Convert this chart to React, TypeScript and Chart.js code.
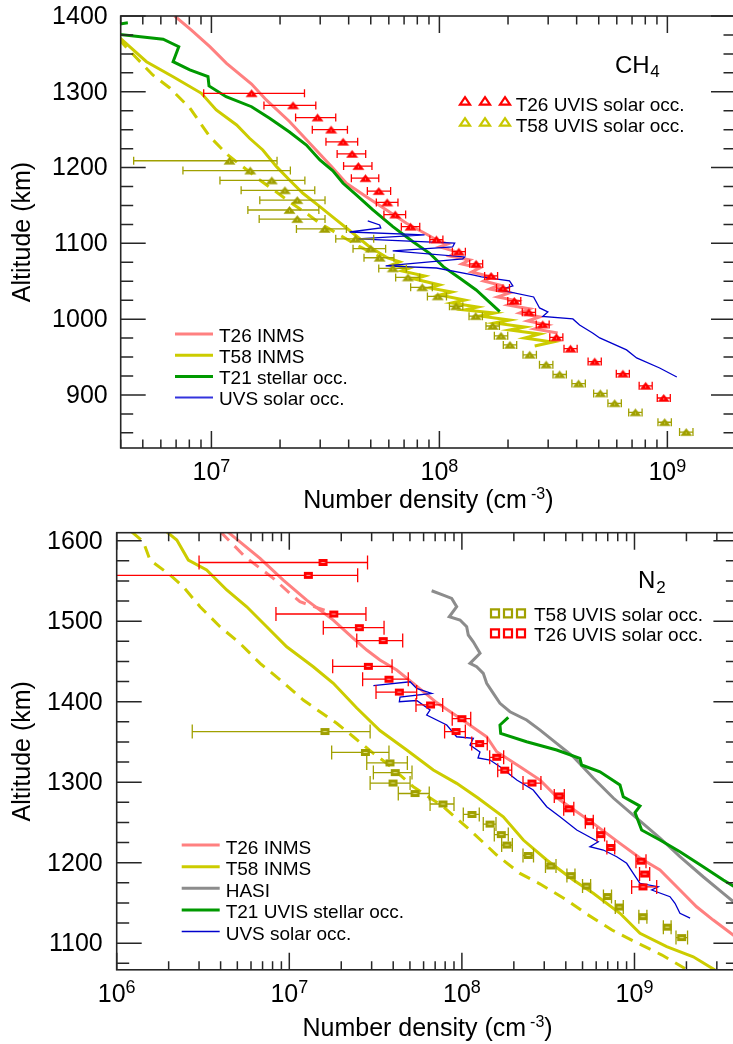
import React, { useEffect, useRef } from "react";
import { Chart, registerables } from "chart.js";
Chart.register(...registerables);

const FONT = '"Liberation Sans", Arial, Helvetica, sans-serif';
const AXIS = "#262626";
const RED = "#ff0000";
const SALMON = "#ff8080";
const YELLOW = "#cccc00";
const OLIVE = "#a0a000";
const GREEN = "#009900";
const BLUE = "#0000cc";
const GREY = "#8c8c8c";

// ---------------- CH4 panel (top) ----------------
const CH4_X_RANGE = [4e6, 2e9];
const CH4_Y_RANGE = [830, 1400];

const CH4_T26_UVIS_ALT = [1298, 1282, 1266, 1250, 1234, 1218, 1202, 1186, 1169, 1154, 1138, 1122, 1105, 1089, 1073, 1057, 1041, 1024, 1009, 993, 976, 961, 944, 928, 912, 896];
const CH4_T26_UVIS_N = [1.5e7, 2.28e7, 2.92e7, 3.35e7, 3.78e7, 4.14e7, 4.41e7, 4.74e7, 5.42e7, 5.9e7, 6.4e7, 7.47e7, 9.7e7, 1.217e8, 1.449e8, 1.686e8, 1.9e8, 2.13e8, 2.47e8, 2.84e8, 3.26e8, 3.76e8, 4.8e8, 6.38e8, 8.03e8, 9.64e8];
const CH4_T26_UVIS_LO = [9.25e6, 1.7e7, 2.34e7, 2.77e7, 3.18e7, 3.56e7, 3.8e7, 4.11e7, 4.83e7, 5.29e7, 5.71e7, 6.81e7, 9.08e7, 1.14e8, 1.357e8, 1.579e8, 1.78e8, 1.995e8, 2.31e8, 2.66e8, 3.05e8, 3.52e8, 4.49e8, 5.97e8, 7.52e8, 9.03e8];
const CH4_T26_UVIS_HI = [2.56e7, 2.87e7, 3.51e7, 3.95e7, 4.38e7, 4.75e7, 5.06e7, 5.42e7, 6.11e7, 6.58e7, 7.11e7, 8.2e7, 1.036e8, 1.3e8, 1.548e8, 1.8e8, 2.03e8, 2.275e8, 2.64e8, 3.03e8, 3.48e8, 4.02e8, 5.13e8, 6.81e8, 8.58e8, 1.03e9];

const CH4_T58_UVIS_ALT = [1209, 1196, 1183, 1170, 1157, 1144, 1132, 1119, 1106, 1093, 1081, 1067, 1055, 1042, 1030, 1017, 1004, 991, 978, 966, 953, 940, 927, 915, 902, 889, 877, 864, 851];
const CH4_T58_UVIS_N = [1.2e7, 1.48e7, 1.84e7, 2.1e7, 2.38e7, 2.2e7, 2.38e7, 3.14e7, 4.29e7, 5.0e7, 5.47e7, 6.25e7, 7.28e7, 8.41e7, 9.84e7, 1.184e8, 1.443e8, 1.713e8, 1.864e8, 2.04e8, 2.49e8, 2.94e8, 3.37e8, 4.08e8, 5.08e8, 5.87e8, 7.24e8, 9.73e8, 1.21e9];
const CH4_T58_UVIS_LO = [4.56e6, 7.5e6, 1.09e7, 1.35e7, 1.63e7, 1.445e7, 1.62e7, 2.36e7, 3.51e7, 4.18e7, 4.67e7, 5.42e7, 6.43e7, 7.48e7, 8.86e7, 1.107e8, 1.349e8, 1.601e8, 1.742e8, 1.907e8, 2.327e8, 2.748e8, 3.15e8, 3.813e8, 4.748e8, 5.486e8, 6.766e8, 9.093e8, 1.131e9];
const CH4_T58_UVIS_HI = [1.94e7, 2.22e7, 2.57e7, 2.84e7, 3.15e7, 2.96e7, 3.15e7, 3.91e7, 5.15e7, 5.81e7, 6.32e7, 7.16e7, 8.2e7, 9.31e7, 1.074e8, 1.267e8, 1.544e8, 1.833e8, 1.994e8, 2.183e8, 2.664e8, 3.146e8, 3.606e8, 4.366e8, 5.436e8, 6.281e8, 7.747e8, 1.041e9, 1.295e9];

const CH4_T26_INMS_N = [6.9e6, 8.17e6, 9.84e6, 1.165e7, 1.5e7, 1.74e7, 2.2e7, 2.79e7, 3.37e7, 3.91e7, 4.78e7, 5.86e7, 7.17e7, 8.91e7, 9.73e7, 1.087e8, 1.003e8, 1.191e8, 1.11e8, 1.358e8, 1.253e8, 1.502e8, 1.385e8, 1.696e8, 1.564e8, 1.839e8, 1.662e8, 2.034e8, 1.802e8, 2.205e8, 1.994e8, 2.489e8, 2.25e8, 2.754e8, 2.44e8, 2.985e8, 2.618e8, 3.303e8];
const CH4_T26_INMS_ALT = [1400, 1381.5, 1359.5, 1337.6, 1310.3, 1289.2, 1260.8, 1227.6, 1201.2, 1179.3, 1161.6, 1144.1, 1126.5, 1111.1, 1104.5, 1099.2, 1095.3, 1088.7, 1083.4, 1078.1, 1072.8, 1067.5, 1062.3, 1055.7, 1050.4, 1045.1, 1039.8, 1034.6, 1029.3, 1024.0, 1018.7, 1013.5, 1008.2, 1002.9, 997.6, 992.3, 987.1, 981.8];

const CH4_T58_INMS_N = [3.9e6, 5.19e6, 6.79e6, 9.04e6, 1.05e7, 1.29e7, 1.47e7, 1.68e7, 1.93e7, 2.2e7, 2.52e7, 2.99e7, 3.53e7, 4.18e7, 4.945e7, 5.933e7, 6.698e7, 6.178e7, 7.41e7, 6.834e7, 8.62e7, 7.795e7, 1.003e8, 9.07e7, 1.132e8, 1.003e8, 1.291e8, 1.132e8, 1.472e8, 1.291e8, 1.748e8, 1.502e8, 2.034e8, 1.748e8, 2.366e8, 2.034e8, 2.754e8, 2.366e8, 3.14e8, 2.618e8];
const CH4_T58_INMS_ALT = [1373, 1339.7, 1319.9, 1298.0, 1276.0, 1256.2, 1238.7, 1223.2, 1201.2, 1183.6, 1166.1, 1148.4, 1130.9, 1113.3, 1095.3, 1080.8, 1075.5, 1071.5, 1067.5, 1063.6, 1057.0, 1053.0, 1045.1, 1041.2, 1035.9, 1031.9, 1025.3, 1021.4, 1016.1, 1012.1, 1008.2, 1004.2, 998.9, 995.0, 989.7, 985.8, 980.5, 975.2, 969.9, 964.6];

const CH4_T58_INMS_DASH_N = [3.9e6, 5.53e6, 6.57e6, 8.04e6, 9.84e6, 1.18e7, 1.63e7, 1.96e7, 2.2e7, 2.61e7, 2.99e7, 3.65e7, 4.47e7, 5.47e7];
const CH4_T58_INMS_DASH_ALT = [1370, 1322.2, 1305.0, 1278.6, 1240.8, 1216.6, 1183.6, 1166.1, 1155.0, 1139.7, 1126.5, 1111.1, 1095.6, 1082.5];

const CH4_T21_STELLAR_N = [3.9e6, 6.14e6, 7.19e6, 6.79e6, 8.04e6, 9.66e6, 9.76e6, 1.16e7, 1.5e7, 1.8e7, 2.2e7, 2.61e7, 2.99e7, 3.41e7, 3.78e7, 4.32e7, 5.11e7, 6.25e7, 7.66e7, 9.06e7, 1.04e8, 1.23e8, 1.45e8, 1.84e8];
const CH4_T21_STELLAR_ALT = [1376, 1369.3, 1359.5, 1339.7, 1328.8, 1319.9, 1307.7, 1293.5, 1280.3, 1265.0, 1247.0, 1229.8, 1210.0, 1195.8, 1179.3, 1163.9, 1144.1, 1122.0, 1102.2, 1086.9, 1069.3, 1053.9, 1038.5, 1009.9];
const CH4_T21_STELLAR_TOP_N = [3.9e6, 4.3e6];
const CH4_T21_STELLAR_TOP_ALT = [1389, 1391];

const CH4_UVS_N = [4.85e7, 5.47e7, 5.53e7, 4.04e7, 8.61e7, 4.38e7, 1.167e8, 1.143e8, 6.24e7, 1.291e8, 1.265e8, 5.81e7, 9.72e7, 1.4e8, 1.53e8, 2.03e8, 2.1e8, 1.84e8, 2.59e8, 2.75e8, 2.99e8, 2.84e8, 3.85e8, 4.12e8, 4.7e8, 5.05e8, 6.62e8, 7.33e8, 9.25e8, 1.1e9];
const CH4_UVS_ALT = [1129.6, 1124.3, 1120.3, 1115.0, 1111.1, 1105.8, 1100.5, 1095.3, 1090.0, 1082.1, 1079.4, 1070.2, 1067.5, 1058.3, 1055.7, 1050.4, 1043.8, 1038.5, 1029.3, 1014.8, 1009.5, 1003.6, 1000.3, 992.3, 981.8, 975.2, 959.4, 948.8, 935.6, 923.7];

// ---------------- N2 panel (bottom) ----------------
const N2_X_RANGE = [1e6, 4e9];
const N2_Y_RANGE = [1067, 1610];

const N2_T26_UVIS_ALT = [1573, 1557, 1509, 1492, 1476, 1444, 1428, 1412, 1396, 1379, 1363, 1348, 1331, 1315, 1299, 1283, 1267, 1251, 1235, 1219, 1202, 1186, 1170];
const N2_T26_UVIS_N = [1.568e7, 1.289e7, 1.81e7, 2.545e7, 3.5e7, 2.87e7, 3.78e7, 4.34e7, 6.58e7, 1.0e8, 9.25e7, 1.267e8, 1.591e8, 1.77e8, 2.547e8, 3.667e8, 4.165e8, 5.47e8, 6.38e8, 7.29e8, 1.091e9, 1.145e9, 1.12e9];
const N2_T26_UVIS_LO = [3.0e6, 8e5, 8.37e6, 1.574e7, 2.46e7, 1.784e7, 2.66e7, 3.18e7, 5.42e7, 8.79e7, 7.94e7, 1.14e8, 1.449e8, 1.613e8, 2.26e8, 3.43e8, 3.89e8, 5.19e8, 6.06e8, 6.92e8, 1.02e9, 1.07e9, 9.63e8];
const N2_T26_UVIS_HI = [2.84e7, 2.49e7, 2.78e7, 3.54e7, 4.54e7, 3.94e7, 4.89e7, 5.47e7, 7.74e7, 1.125e8, 1.047e8, 1.403e8, 1.746e8, 1.944e8, 2.87e8, 3.92e8, 4.45e8, 5.77e8, 6.71e8, 7.68e8, 1.166e9, 1.225e9, 1.345e9];

const N2_T58_UVIS_ALT = [1363, 1337, 1324, 1312, 1299, 1286, 1273, 1260, 1248, 1235, 1222, 1209, 1196, 1184, 1171, 1158, 1145, 1133, 1120, 1107];
const N2_T58_UVIS_N = [1.61e7, 2.76e7, 3.83e7, 4.11e7, 3.99e7, 5.35e7, 7.77e7, 1.144e8, 1.455e8, 1.692e8, 1.825e8, 2.425e8, 3.27e8, 4.29e8, 5.28e8, 6.98e8, 8.17e8, 1.12e9, 1.549e9, 1.877e9];
const N2_T58_UVIS_LO = [2.74e6, 1.76e7, 2.81e7, 3.07e7, 2.94e7, 4.28e7, 6.54e7, 1.019e8, 1.33e8, 1.541e8, 1.7e8, 2.26e8, 3.05e8, 4.06e8, 5.0e8, 6.61e8, 7.74e8, 1.06e9, 1.47e9, 1.74e9];
const N2_T58_UVIS_HI = [2.94e7, 3.78e7, 4.83e7, 5.14e7, 5.01e7, 6.47e7, 9.0e7, 1.261e8, 1.576e8, 1.857e8, 1.96e8, 2.6e8, 3.51e8, 4.52e8, 5.57e8, 7.36e8, 8.61e8, 1.18e9, 1.63e9, 2.03e9];

const N2_T26_INMS_N = [4.4e6, 6.77e6, 9.23e6, 1.261e7, 1.798e7, 2.35e7, 2.81e7, 3.35e7, 4.19e7, 5.23e7, 7.14e7, 9.75e7, 1.392e8, 1.591e8, 2.17e8, 2.84e8, 3.7e8, 5.77e8, 8.24e8, 1.076e9, 1.405e9, 1.834e9, 2.29e9, 2.86e9, 4.08e9];
const N2_T26_INMS_ALT = [1611, 1578.1, 1551.2, 1526.3, 1501.5, 1478.8, 1464.2, 1451.8, 1439.4, 1422.9, 1399.0, 1379.4, 1356.5, 1337.9, 1319.3, 1302.7, 1277.9, 1248.9, 1224.1, 1205.8, 1190.9, 1166.1, 1145.3, 1128.8, 1104];

const N2_T26_INMS_DASH_N = [4.0e6, 5.54e6, 8.08e6, 1.009e7, 1.153e7, 1.72e7];
const N2_T26_INMS_DASH_ALT = [1611, 1580.1, 1553.3, 1534.7, 1524.2, 1511.4];

const N2_T58_INMS_N = [1.95e6, 2.23e6, 2.6e6, 3.32e6, 4.34e6, 5.67e6, 7.4e6, 9.66e6, 1.377e7, 1.8e7, 2.46e7, 3.35e7, 4.79e7, 6.83e7, 9.33e7, 1.24e8, 1.738e8, 2.27e8, 3.1e8, 4.42e8, 5.77e8, 8.24e8, 1.076e9, 1.537e9, 2.19e9, 2.93e9];
const N2_T58_INMS_ALT = [1611, 1600.9, 1576.0, 1563.6, 1538.8, 1518.0, 1493.2, 1468.3, 1443.5, 1422.9, 1392.2, 1364.2, 1340.0, 1315.2, 1298.6, 1280.4, 1257.1, 1228.2, 1203.4, 1178.5, 1162.0, 1137.2, 1112.3, 1095.7, 1083.2, 1066.7];

const N2_T58_INMS_DASH_N = [1.222e6, 1.426e6, 1.56e6, 2.04e6, 2.43e6, 3.04e6, 3.97e6, 5.18e6, 6.77e6, 9.03e6, 1.205e7, 1.506e7, 1.882e7, 2.35e7, 3.07e7, 3.67e7, 5.23e7, 7.8e7, 1.114e8, 1.591e8, 2.17e8, 2.84e8, 4.05e8, 5.28e8, 7.41e8, 1.048e9, 1.443e9, 1.962e9];
const N2_T58_INMS_DASH_ALT = [1611, 1598.8, 1576.0, 1557.4, 1542.9, 1518.0, 1493.2, 1472.5, 1447.7, 1425.7, 1402.1, 1387.6, 1373.2, 1356.5, 1335.9, 1323.5, 1294.4, 1269.6, 1240.6, 1209.6, 1186.8, 1173.5, 1153.7, 1136.3, 1116.4, 1099.9, 1085.3, 1068.6];

const N2_HASI_N = [6.68e7, 7.8e7, 8.73e7, 9.33e7, 8.45e7, 9.75e7, 1.066e8, 1.089e8, 1.164e8, 1.274e8, 1.114e8, 1.218e8, 1.33e8, 1.392e8, 1.521e8, 1.662e8, 1.9e8, 2.37e8, 2.84e8, 3.54e8, 4.42e8, 5.77e8, 7.54e8, 1.03e9, 1.405e9, 1.834e9, 2.5e9, 3.27e9, 4.08e9];
const N2_HASI_ALT = [1537.9, 1532.5, 1528.4, 1518.0, 1505.6, 1501.5, 1493.2, 1482.9, 1474.5, 1460.1, 1447.7, 1443.5, 1435.3, 1422.9, 1410.4, 1398.0, 1387.6, 1377.3, 1364.8, 1348.3, 1331.7, 1305.2, 1280.4, 1255.5, 1230.7, 1207.5, 1182.6, 1162.0, 1145.0];

const N2_T21_STELLAR_N = [1.857e8, 1.662e8, 1.678e8, 2.37e8, 3.54e8, 4.83e8, 4.94e8, 6.31e8, 8.24e8, 8.61e8, 1.076e9, 1.007e9, 1.1e9, 1.405e9, 1.834e9, 2.5e9, 3.27e9, 4.08e9];
const N2_T21_STELLAR_ALT = [1380.6, 1371.1, 1360.7, 1350.3, 1340.0, 1329.7, 1321.4, 1313.0, 1296.5, 1282.0, 1270.4, 1262.4, 1240.6, 1228.2, 1213.7, 1195.0, 1178.5, 1166.1];

const N2_UVS_N = [3.07e7, 5.01e7, 5.47e7, 6.68e7, 4.38e7, 4.34e7, 5.47e7, 6.54e7, 6.25e7, 8.17e7, 9.33e7, 1.165e8, 1.114e8, 1.273e8, 1.24e8, 1.455e8, 1.662e8, 2.08e8, 2.59e8, 3.1e8, 3.7e8, 4.63e8, 6.17e8, 5.52e8, 6.6e8, 7.89e8, 9.01e8, 9.84e8, 1.076e9, 1.373e9, 1.258e9, 1.606e9, 1.717e9, 1.834e9, 2.1e9];
const N2_UVS_ALT = [1419.9, 1424.8, 1416.6, 1410.4, 1405.8, 1400.0, 1401.5, 1389.7, 1383.5, 1371.1, 1356.5, 1354.5, 1346.2, 1337.5, 1330.1, 1327.6, 1319.3, 1302.7, 1290.3, 1269.6, 1257.1, 1240.6, 1226.1, 1219.9, 1215.8, 1207.5, 1199.3, 1186.8, 1174.4, 1170.2, 1166.1, 1157.8, 1149.6, 1137.2, 1131.1];

// ---------------- helpers ----------------
const zip = (xs: number[], ys: number[]) => xs.map((x, i) => ({ x, y: ys[i] }));

function markerCanvas(kind: "tri" | "sq", fill: string, inner: string) {
  const c = document.createElement("canvas");
  if (kind === "tri") {
    c.width = 13;
    c.height = 10;
    const g = c.getContext("2d") as CanvasRenderingContext2D;
    g.fillStyle = fill;
    g.beginPath();
    g.moveTo(6.5, 1);
    g.lineTo(12.5, 8.8);
    g.lineTo(0.5, 8.8);
    g.closePath();
    g.fill();
    g.fillStyle = inner;
    g.fillRect(6, 5.5, 1, 1);
  } else {
    c.width = 11;
    c.height = 9;
    const g = c.getContext("2d") as CanvasRenderingContext2D;
    g.fillStyle = fill;
    g.fillRect(1, 1, 9, 7);
    g.fillStyle = inner;
    g.fillRect(3.5, 4, 4, 1);
  }
  return c;
}

function lineDs(n: number[], alt: number[], color: string, width: number, dash: number[] = []) {
  return {
    data: zip(n, alt),
    showLine: true,
    pointRadius: 0,
    borderColor: color,
    borderWidth: width,
    borderDash: dash,
    tension: 0,
    fill: false,
    clip: 0,
  };
}

function markDs(n: number[], alt: number[], lo: number[], hi: number[], img: HTMLCanvasElement, errColor: string, capH: number) {
  return {
    data: zip(n, alt),
    showLine: false,
    pointStyle: img,
    pointRadius: 5,
    errLo: lo,
    errHi: hi,
    errColor,
    capH,
    clip: 0,
  };
}

type Part = { t: string; size: number; dy: number; gap?: number };
function drawParts(ctx: CanvasRenderingContext2D, parts: Part[], x: number, y: number, align: "left" | "center") {
  let total = 0;
  const widths = parts.map((p) => {
    ctx.font = `${p.size}px ${FONT}`;
    const w = ctx.measureText(p.t).width;
    total += w + (p.gap || 0);
    return w;
  });
  let cx = align === "center" ? x - total / 2 : x;
  ctx.textAlign = "left";
  ctx.textBaseline = "alphabetic";
  parts.forEach((p, i) => {
    cx += p.gap || 0;
    ctx.font = `${p.size}px ${FONT}`;
    ctx.fillText(p.t, cx, y + p.dy);
    cx += widths[i];
  });
}

interface PanelCfg {
  yMajor: number;
  yMinor: number;
  yLabelGap: number;
  xLabelDy: number;
  xTitleY: number;
  yTitleX: number;
  lineLegend: { label: string; color: string; width: number }[];
  llX: number;
  llY: number;
  llStep: number;
  llTextDy: number;
  markKind: "tri" | "sq";
  markLegend: { label: string; color: string }[];
  mlXs: number[];
  mlY: number;
  mlStep: number;
  mlTextX: number;
  mlTextDy: number;
  species: Part[];
  spX: number;
  spY: number;
}

const errorBarPlugin = {
  id: "errbars",
  beforeDatasetDraw(chart: any, args: any) {
    const ds: any = chart.data.datasets[args.index];
    if (!ds.errLo) return;
    const { ctx, chartArea: a } = chart;
    const xs = chart.scales.x;
    const ys = chart.scales.y;
    ctx.save();
    ctx.beginPath();
    ctx.rect(a.left, a.top, a.right - a.left, a.bottom - a.top);
    ctx.clip();
    ctx.strokeStyle = ds.errColor;
    ctx.lineWidth = 1.3;
    ctx.beginPath();
    ds.data.forEach((p: any, i: number) => {
      const y = ys.getPixelForValue(p.y);
      const x0 = xs.getPixelForValue(ds.errLo[i]);
      const x1 = xs.getPixelForValue(ds.errHi[i]);
      const h = ds.capH / 2;
      ctx.moveTo(x0, y);
      ctx.lineTo(x1, y);
      ctx.moveTo(x0, y - h);
      ctx.lineTo(x0, y + h);
      ctx.moveTo(x1, y - h);
      ctx.lineTo(x1, y + h);
    });
    ctx.stroke();
    ctx.restore();
  },
};

function panelPlugin(cfg: PanelCfg) {
  return {
    id: "panel",
    afterDraw(chart: any) {
      const { ctx, chartArea: a } = chart;
      const xs = chart.scales.x;
      const ys = chart.scales.y;
      ctx.save();
      ctx.strokeStyle = AXIS;
      ctx.fillStyle = "#000";
      ctx.lineWidth = 1.5;
      ctx.beginPath();
      const y0 = Math.ceil(ys.min / cfg.yMinor) * cfg.yMinor;
      for (let v = y0; v <= ys.max + 1e-6; v += cfg.yMinor) {
        const p = ys.getPixelForValue(v);
        const major = Math.abs(v % cfg.yMajor) < 1e-6;
        const L = major ? 25 : 12.5;
        ctx.moveTo(a.left, p);
        ctx.lineTo(a.left + L, p);
        ctx.moveTo(a.right, p);
        ctx.lineTo(a.right - L, p);
      }
      const d0 = Math.floor(Math.log10(xs.min));
      const d1 = Math.ceil(Math.log10(xs.max));
      const decades: number[] = [];
      for (let d = d0; d <= d1; d++) {
        for (let m = 1; m <= 9; m++) {
          const v = m * Math.pow(10, d);
          if (v < xs.min * 0.999 || v > xs.max * 1.001) continue;
          const p = xs.getPixelForValue(v);
          const L = m === 1 ? 17 : 8.5;
          ctx.moveTo(p, a.bottom);
          ctx.lineTo(p, a.bottom - L);
          ctx.moveTo(p, a.top);
          ctx.lineTo(p, a.top + L);
          if (m === 1) decades.push(d);
        }
      }
      ctx.stroke();
      ctx.lineWidth = 1.6;
      ctx.strokeRect(a.left, a.top, a.right - a.left, a.bottom - a.top);

      // y tick labels
      ctx.font = `25px ${FONT}`;
      ctx.textAlign = "right";
      ctx.textBaseline = "middle";
      for (let v = Math.ceil(ys.min / cfg.yMajor) * cfg.yMajor; v <= ys.max + 1e-6; v += cfg.yMajor) {
        ctx.fillText(String(v), a.left - cfg.yLabelGap, ys.getPixelForValue(v) + 1);
      }
      // x tick labels
      decades.forEach((d) => {
        const p = xs.getPixelForValue(Math.pow(10, d));
        drawParts(ctx, [
          { t: "10", size: 25, dy: 0 },
          { t: String(d), size: 18, dy: -8.5 },
        ], p, a.bottom + cfg.xLabelDy, "center");
      });
      // x title
      drawParts(ctx, [
        { t: "Number density (cm", size: 25, dy: 0 },
        { t: "-3", size: 16, dy: -9, gap: 4 },
        { t: ")", size: 25, dy: 0 },
      ], (a.left + a.right) / 2, cfg.xTitleY, "center");
      // y title
      ctx.save();
      ctx.translate(cfg.yTitleX, (a.top + a.bottom) / 2);
      ctx.rotate(-Math.PI / 2);
      ctx.font = `25px ${FONT}`;
      ctx.textAlign = "center";
      ctx.textBaseline = "alphabetic";
      ctx.fillText("Altitude (km)", 0, 0);
      ctx.restore();

      // line legend
      cfg.lineLegend.forEach((it, i) => {
        const y = cfg.llY + i * cfg.llStep;
        ctx.strokeStyle = it.color;
        ctx.lineWidth = it.width;
        ctx.beginPath();
        ctx.moveTo(cfg.llX, y);
        ctx.lineTo(cfg.llX + 38, y);
        ctx.stroke();
        ctx.fillStyle = "#000";
        ctx.font = `19px ${FONT}`;
        ctx.textAlign = "left";
        ctx.textBaseline = "alphabetic";
        ctx.fillText(it.label, cfg.llX + 44, y + cfg.llTextDy);
      });

      // marker legend
      cfg.markLegend.forEach((it, i) => {
        const y = cfg.mlY + i * cfg.mlStep;
        ctx.strokeStyle = it.color;
        ctx.lineWidth = 2.2;
        cfg.mlXs.forEach((x) => {
          ctx.beginPath();
          if (cfg.markKind === "tri") {
            ctx.moveTo(x, y - 3.8);
            ctx.lineTo(x + 5, y + 3.6);
            ctx.lineTo(x - 5, y + 3.6);
            ctx.closePath();
          } else {
            ctx.rect(x - 4, y - 4, 8, 8);
          }
          ctx.stroke();
        });
        ctx.fillStyle = "#000";
        ctx.font = `19px ${FONT}`;
        ctx.textAlign = "left";
        ctx.textBaseline = "alphabetic";
        ctx.fillText(it.label, cfg.mlTextX, y + cfg.mlTextDy);
      });

      // species label
      ctx.fillStyle = "#000";
      drawParts(ctx, cfg.species, cfg.spX, cfg.spY, "left");
      ctx.restore();
    },
  };
}

function baseOptions(xr: number[], yr: number[], padding: any) {
  return {
    responsive: false,
    animation: false,
    events: [],
    layout: { padding },
    scales: {
      x: { type: "logarithmic", min: xr[0], max: xr[1], display: false },
      y: { type: "linear", min: yr[0], max: yr[1], display: false },
    },
    plugins: { legend: { display: false }, tooltip: { enabled: false } },
  };
}

function buildTop(canvas: HTMLCanvasElement) {
  const triRed = markerCanvas("tri", RED, "#ffb0b0");
  const triOlive = markerCanvas("tri", OLIVE, "#e0e080");
  const datasets: any[] = [
    markDs(CH4_T26_UVIS_N, CH4_T26_UVIS_ALT, CH4_T26_UVIS_LO, CH4_T26_UVIS_HI, triRed, RED, 8),
    markDs(CH4_T58_UVIS_N, CH4_T58_UVIS_ALT, CH4_T58_UVIS_LO, CH4_T58_UVIS_HI, triOlive, OLIVE, 8),
    lineDs(CH4_UVS_N, CH4_UVS_ALT, BLUE, 1.3),
    lineDs(CH4_T21_STELLAR_N, CH4_T21_STELLAR_ALT, GREEN, 3),
    lineDs(CH4_T21_STELLAR_TOP_N, CH4_T21_STELLAR_TOP_ALT, GREEN, 3),
    lineDs(CH4_T58_INMS_N, CH4_T58_INMS_ALT, YELLOW, 3),
    lineDs(CH4_T58_INMS_DASH_N, CH4_T58_INMS_DASH_ALT, YELLOW, 3, [12, 8]),
    lineDs(CH4_T26_INMS_N, CH4_T26_INMS_ALT, SALMON, 3),
  ];
  const cfg: PanelCfg = {
    yMajor: 100,
    yMinor: 25,
    yLabelGap: 13,
    xLabelDy: 32,
    xTitleY: 508,
    yTitleX: 30,
    lineLegend: [
      { label: "T26 INMS", color: SALMON, width: 3 },
      { label: "T58 INMS", color: YELLOW, width: 3 },
      { label: "T21 stellar occ.", color: GREEN, width: 3 },
      { label: "UVS solar occ.", color: "#3333dd", width: 2 },
    ],
    llX: 175,
    llY: 334,
    llStep: 21.2,
    llTextDy: 7.6,
    markKind: "tri",
    markLegend: [
      { label: "T26 UVIS solar occ.", color: RED },
      { label: "T58 UVIS solar occ.", color: "#c8c800" },
    ],
    mlXs: [465, 485, 505],
    mlY: 101,
    mlStep: 21,
    mlTextX: 515.7,
    mlTextDy: 10,
    species: [
      { t: "CH", size: 24, dy: 0 },
      { t: "4", size: 17, dy: 4, gap: 0.5 },
    ],
    spX: 615,
    spY: 73.3,
  };
  return new Chart(canvas, {
    type: "scatter",
    data: { datasets },
    options: baseOptions(CH4_X_RANGE, CH4_Y_RANGE, { left: 120.7, top: 16, right: 9, bottom: 72 }) as any,
    plugins: [errorBarPlugin, panelPlugin(cfg)],
  } as any);
}

function buildBottom(canvas: HTMLCanvasElement) {
  const sqRed = markerCanvas("sq", RED, "#ffa0a0");
  const sqOlive = markerCanvas("sq", OLIVE, "#e0e080");
  const datasets: any[] = [
    markDs(N2_T26_UVIS_N, N2_T26_UVIS_ALT, N2_T26_UVIS_LO, N2_T26_UVIS_HI, sqRed, RED, 14),
    markDs(N2_T58_UVIS_N, N2_T58_UVIS_ALT, N2_T58_UVIS_LO, N2_T58_UVIS_HI, sqOlive, OLIVE, 14),
    lineDs(N2_UVS_N, N2_UVS_ALT, BLUE, 1.3),
    lineDs(N2_T21_STELLAR_N, N2_T21_STELLAR_ALT, GREEN, 3),
    lineDs(N2_HASI_N, N2_HASI_ALT, GREY, 3),
    lineDs(N2_T58_INMS_N, N2_T58_INMS_ALT, YELLOW, 3),
    lineDs(N2_T58_INMS_DASH_N, N2_T58_INMS_DASH_ALT, YELLOW, 3, [12, 8]),
    lineDs(N2_T26_INMS_N, N2_T26_INMS_ALT, SALMON, 3),
    lineDs(N2_T26_INMS_DASH_N, N2_T26_INMS_DASH_ALT, SALMON, 3, [12, 8]),
  ];
  const cfg: PanelCfg = {
    yMajor: 100,
    yMinor: 25,
    yLabelGap: 14,
    xLabelDy: 32,
    xTitleY: 516,
    yTitleX: 29.5,
    lineLegend: [
      { label: "T26 INMS", color: SALMON, width: 3 },
      { label: "T58 INMS", color: YELLOW, width: 3 },
      { label: "HASI", color: GREY, width: 3 },
      { label: "T21 UVIS stellar occ.", color: GREEN, width: 3 },
      { label: "UVS solar occ.", color: BLUE, width: 1.5 },
    ],
    llX: 181.7,
    llY: 325,
    llStep: 21.65,
    llTextDy: 8.5,
    markKind: "sq",
    markLegend: [
      { label: "T58 UVIS solar occ.", color: OLIVE },
      { label: "T26 UVIS solar occ.", color: RED },
    ],
    mlXs: [495, 508, 521],
    mlY: 93.3,
    mlStep: 20,
    mlTextX: 534,
    mlTextDy: 7.7,
    species: [
      { t: "N", size: 24, dy: 0 },
      { t: "2", size: 17, dy: 4.4, gap: 1 },
    ],
    spX: 638,
    spY: 68.3,
  };
  return new Chart(canvas, {
    type: "scatter",
    data: { datasets },
    options: baseOptions(N2_X_RANGE, N2_Y_RANGE, { left: 116.7, top: 12.7, right: 6.6, bottom: 74.2 }) as any,
    plugins: [errorBarPlugin, panelPlugin(cfg)],
  } as any);
}

export default function App() {
  const topRef = useRef<HTMLCanvasElement>(null);
  const botRef = useRef<HTMLCanvasElement>(null);
  useEffect(() => {
    const c1 = buildTop(topRef.current as HTMLCanvasElement);
    const c2 = buildBottom(botRef.current as HTMLCanvasElement);
    return () => {
      c1.destroy();
      c2.destroy();
    };
  }, []);
  return (
    <div
      style={{
        position: "fixed",
        left: 0,
        top: 0,
        width: 733,
        height: 1044,
        overflow: "hidden",
        background: "#fff",
      }}
    >
      <canvas ref={topRef} width={745} height={520} style={{ position: "absolute", left: 0, top: 0 }} />
      <canvas ref={botRef} width={745} height={524} style={{ position: "absolute", left: 0, top: 520 }} />
    </div>
  );
}
